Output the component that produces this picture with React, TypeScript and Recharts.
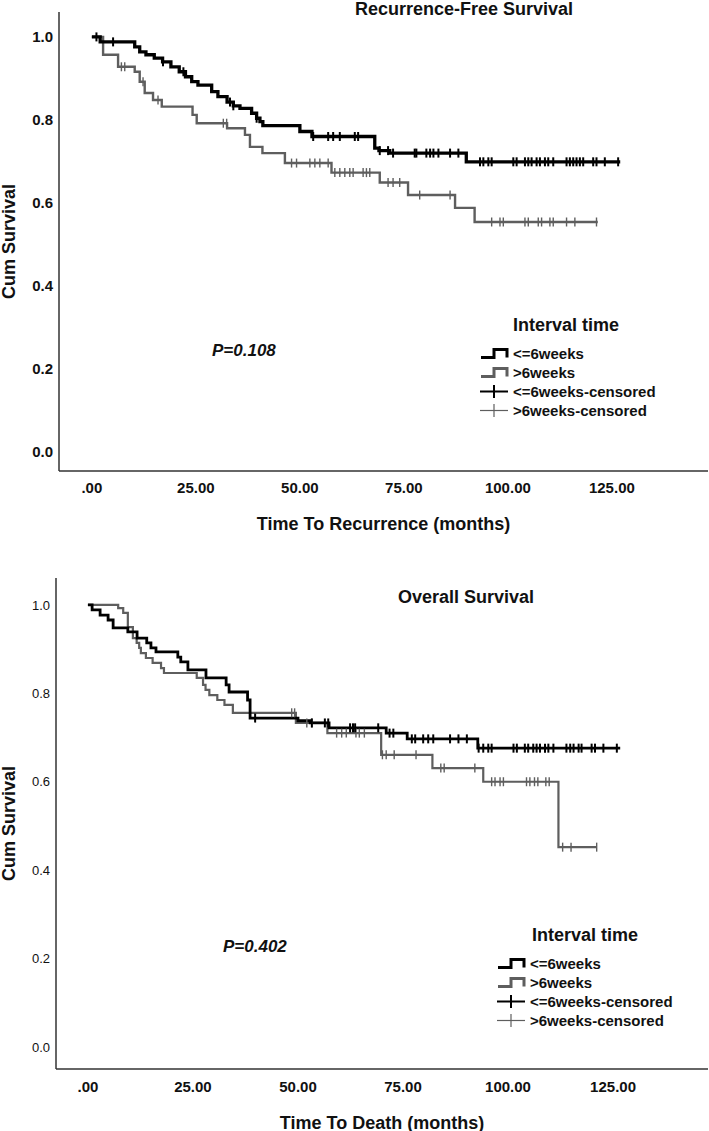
import React from "react"
import { ComposedChart, Line, Scatter, XAxis, YAxis, Legend } from "recharts"

// Recurrence-free survival, <=6 weeks (step times / survival after step)
const rfsShortT = [0, 2, 10.3, 11.5, 13, 15, 17, 19, 21, 22.5, 24, 25.5, 28.8, 30.3, 32.5, 34, 35.6, 38.4, 39.6, 40.4, 41.1, 50, 52.9, 68, 69, 71.6, 90, 127]
const rfsShortS = [1.0, 0.988, 0.976, 0.964, 0.957, 0.949, 0.94, 0.928, 0.916, 0.904, 0.892, 0.884, 0.868, 0.856, 0.843, 0.834, 0.828, 0.816, 0.804, 0.796, 0.786, 0.772, 0.76, 0.732, 0.726, 0.72, 0.699, 0.699]
const rfsShortCens = [1.1, 5.1, 17.1, 22, 33.2, 34, 39.6, 53.2, 56.8, 58, 59.6, 63.2, 64, 69.2, 71.2, 72.4, 77.6, 78, 80.4, 81.3, 82.1, 83.3, 86.1, 88.1, 93.3, 94.1, 95.3, 96.1, 101.3, 102.1, 104.1, 104.9, 105.7, 106.9, 107.7, 108.9, 109.7, 110.9, 114.1, 114.9, 115.7, 116.5, 117.3, 118.1, 120.5, 121.3, 123.3, 126.5]

// Recurrence-free survival, >6 weeks
const rfsLongT = [0, 2.7, 6.3, 10.3, 11.5, 12.7, 14.7, 16.8, 24.2, 25.2, 32.5, 36.8, 38, 41, 46.4, 57.6, 69.2, 76, 87.3, 92, 121.6]
const rfsLongS = [1.0, 0.957, 0.928, 0.916, 0.892, 0.865, 0.848, 0.832, 0.812, 0.792, 0.78, 0.764, 0.735, 0.72, 0.696, 0.673, 0.649, 0.619, 0.588, 0.554, 0.554]
const rfsLongCens = [7.1, 7.9, 12.3, 15.9, 31.6, 32.4, 48, 49.2, 52.4, 53.6, 54.8, 56.8, 58.4, 59.6, 60.8, 62, 62.8, 65.2, 66, 66.8, 71.2, 72.4, 74, 78.8, 86.1, 96.1, 98.1, 98.9, 104.1, 104.9, 107.3, 108.1, 110.1, 110.9, 114.1, 116.1, 121.3]

// Overall survival, <=6 weeks
const osShortT = [0, 1, 2.9, 4.8, 6, 9.5, 11.7, 14, 15, 16.2, 21.4, 22.1, 23.8, 28.1, 32.9, 33.6, 38, 38.6, 50, 52.9, 57.4, 71, 76, 92.8, 126.7]
const osShortS = [1.0, 0.989, 0.977, 0.966, 0.948, 0.939, 0.925, 0.914, 0.903, 0.894, 0.882, 0.871, 0.853, 0.835, 0.819, 0.803, 0.785, 0.744, 0.738, 0.733, 0.722, 0.71, 0.697, 0.676, 0.676]
const osShortCens = [39.8, 53.3, 56.4, 57.2, 62.4, 63.1, 63.6, 69.1, 71.8, 72.7, 77.1, 77.9, 79.8, 81, 82.2, 86.2, 88.2, 90.2, 93, 94.1, 95.3, 96.1, 101.3, 102.1, 104, 104.8, 106, 106.8, 107.6, 108.8, 109.6, 110.8, 113.9, 114.8, 115.6, 116.8, 117.5, 119.9, 120.7, 122.7, 125.9]

// Overall survival, >6 weeks
const osLongT = [0, 7.2, 8.4, 9.5, 10.7, 11.6, 12.2, 12.6, 13.8, 15.4, 17.4, 18.1, 25.9, 27.4, 28, 28.9, 30.8, 32.5, 34.5, 49.5, 57, 69.8, 82, 94.1, 112, 121.1]
const osLongS = [1.0, 0.993, 0.982, 0.95, 0.925, 0.914, 0.903, 0.891, 0.88, 0.869, 0.857, 0.846, 0.835, 0.819, 0.808, 0.796, 0.785, 0.774, 0.756, 0.733, 0.71, 0.661, 0.631, 0.6, 0.452, 0.452]
const osLongCens = [48.5, 49.2, 52.1, 53.3, 59.2, 60.4, 61.5, 63.8, 64.6, 65.8, 70.1, 71, 72.9, 78.1, 84, 84.8, 92.1, 96.1, 96.9, 98.1, 98.9, 104.4, 105.2, 106.3, 107.1, 109, 109.8, 113, 115, 121.1]

const xTicks = [0, 25, 50, 75, 100, 125]
const yTicks = [0, 0.2, 0.4, 0.6, 0.8, 1.0]
const legendLabels = ["<=6weeks", ">6weeks", "<=6weeks-censored", ">6weeks-censored"]

const FONT = "'Liberation Sans', Arial, sans-serif"
const BLACK = "#000"
const GRAY = "#5e5e5e"

const toRows = (ts: number[], ss: number[]) => ts.map((t, i) => ({ t, s: ss[i] }))

// survival value of the step curve at time t (for placing censor marks)
const stepAt = (ts: number[], ss: number[], t: number) => {
  let s = ss[0]
  ts.forEach((v, i) => {
    if (v <= t) s = ss[i]
  })
  return s
}
const censRows = (ts: number[], ss: number[], cens: number[]) =>
  cens.map((t) => ({ t, s: stepAt(ts, ss, t) }))

const censorMark = (color: string, half: number, w: number) => (p: any) => (
  <line x1={p.cx} x2={p.cx} y1={p.cy - half} y2={p.cy + half} stroke={color} strokeWidth={w} />
)

const fmtX = (v: number) => (v === 0 ? ".00" : v.toFixed(2))
const fmtY = (v: number) => v.toFixed(1)

function KMLegend({ titleLeft }: { titleLeft: number }) {
  return (
    <div style={{ position: "relative", width: 200, height: 110, fontFamily: FONT, fontWeight: "bold", color: "#111" }}>
      <div style={{ position: "absolute", left: titleLeft, top: 0, fontSize: 18, lineHeight: "24px", whiteSpace: "nowrap" }}>
        Interval time
      </div>
      {legendLabels.map((lab, i) => (
        <div
          key={lab}
          style={{ position: "absolute", left: 0, top: 30.5 + i * 19.3, height: 19, display: "flex", alignItems: "center", fontSize: 15, whiteSpace: "nowrap" }}
        >
          <svg width={30} height={19}>
            {i < 2 ? (
              <path d="M1,13.5 H14 V5.5 H27 V13.5" fill="none" stroke={i === 0 ? BLACK : GRAY} strokeWidth={3} />
            ) : (
              <g stroke={i === 2 ? BLACK : GRAY} strokeWidth={i === 2 ? 2 : 1.2}>
                <line x1={0} x2={28} y1={9.5} y2={9.5} />
                <line x1={14} x2={14} y1={3} y2={16} />
              </g>
            )}
          </svg>
          <span style={{ marginLeft: 3 }}>{lab}</span>
        </div>
      ))}
    </div>
  )
}

type KMProps = {
  height: number
  margin: { top: number; right: number; bottom: number; left: number }
  yWidth: number
  xHeight: number
  xDomain: [number, number]
  yDomain: [number, number]
  title: string
  titleX: number
  titleY: number
  pText: string
  pX: number
  pY: number
  xLabel: string
  xLabelDy: number
  xTickMargin: number
  yTickStyle: React.CSSProperties & { fontSize: number; fontWeight: string }
  legendLeft: number
  legendTop: number
  legendTitleLeft: number
  short: { t: number[]; s: number[]; c: number[] }
  long: { t: number[]; s: number[]; c: number[] }
  widths: [number, number]
}

function KMChart(p: KMProps) {
  return (
    <ComposedChart width={709} height={p.height} margin={p.margin}>
      <XAxis
        dataKey="t"
        type="number"
        domain={p.xDomain}
        ticks={xTicks}
        tickFormatter={fmtX}
        allowDataOverflow
        height={p.xHeight}
        tickLine={false}
        tickMargin={p.xTickMargin}
        stroke="#333"
        strokeWidth={1.5}
        tick={{ fill: "#111", fontSize: 15, fontWeight: "bold", fontFamily: FONT }}
        label={{
          content: (lp: any) => (
            <text
              x={lp.viewBox.x + lp.viewBox.width / 2}
              y={lp.viewBox.y + p.xLabelDy}
              textAnchor="middle"
              fontSize={18}
              fontWeight="bold"
              fontFamily={FONT}
              fill="#111"
            >
              {p.xLabel}
            </text>
          ),
        }}
      />
      <YAxis
        type="number"
        domain={p.yDomain}
        ticks={yTicks}
        tickFormatter={fmtY}
        allowDataOverflow
        width={p.yWidth}
        tickLine={false}
        tickMargin={0}
        stroke="#333"
        strokeWidth={1.5}
        tick={{ fill: "#111", fontFamily: FONT, ...p.yTickStyle }}
        label={{
          content: (lp: any) => {
            const cy = lp.viewBox.y + lp.viewBox.height / 2
            return (
              <text
                x={15}
                y={cy}
                transform={`rotate(-90, 15, ${cy})`}
                textAnchor="middle"
                fontSize={18}
                fontWeight="bold"
                fontFamily={FONT}
                fill="#111"
              >
                Cum Survival
              </text>
            )
          },
        }}
      />
      <Legend
        layout="vertical"
        align="center"
        verticalAlign="middle"
        content={() => <KMLegend titleLeft={p.legendTitleLeft} />}
        wrapperStyle={{ position: "absolute", left: p.legendLeft, top: p.legendTop, width: 200, height: 110 }}
      />
      <Line
        data={toRows(p.long.t, p.long.s)}
        dataKey="s"
        type="stepAfter"
        stroke={GRAY}
        strokeWidth={p.widths[1]}
        dot={false}
        isAnimationActive={false}
        legendType="none"
      />
      <Scatter
        data={censRows(p.long.t, p.long.s, p.long.c)}
        dataKey="s"
        shape={censorMark(GRAY, 4.5, 1.4)}
        isAnimationActive={false}
        legendType="none"
      />
      <Line
        data={toRows(p.short.t, p.short.s)}
        dataKey="s"
        type="stepAfter"
        stroke={BLACK}
        strokeWidth={p.widths[0]}
        dot={false}
        isAnimationActive={false}
        legendType="none"
      />
      <Scatter
        data={censRows(p.short.t, p.short.s, p.short.c)}
        dataKey="s"
        shape={censorMark(BLACK, 4.5, 2)}
        isAnimationActive={false}
        legendType="none"
      />
      <text x={p.titleX} y={p.titleY} textAnchor="middle" fontSize={18} fontWeight="bold" fontFamily={FONT} fill="#111">
        {p.title}
      </text>
      <text x={p.pX} y={p.pY} fontSize={17} fontWeight="bold" fontStyle="italic" fontFamily={FONT} fill="#111">
        {p.pText}
      </text>
    </ComposedChart>
  )
}

export default function App() {
  return (
    <div style={{ position: "absolute", left: 0, top: 0, width: 709, height: 1131, background: "#fff", overflow: "hidden" }}>
      <KMChart
        height={548}
        margin={{ top: 12, right: 1, bottom: 0, left: 0 }}
        yWidth={59}
        xHeight={77}
        xDomain={[-7.9, 148.1]}
        yDomain={[-0.046, 1.06]}
        title="Recurrence-Free Survival"
        titleX={464}
        titleY={15}
        pText="P=0.108"
        pX={212}
        pY={356}
        xLabel="Time To Recurrence (months)"
        xLabelDy={58.5}
        xTickMargin={5}
        yTickStyle={{ fontSize: 15, fontWeight: "bold" }}
        legendLeft={480}
        legendTop={313}
        legendTitleLeft={33}
        short={{ t: rfsShortT, s: rfsShortS, c: rfsShortCens }}
        long={{ t: rfsLongT, s: rfsLongS, c: rfsLongCens }}
        widths={[3.3, 2.4]}
      />
      <KMChart
        height={590}
        margin={{ top: 30, right: 1, bottom: 7, left: 0 }}
        yWidth={56}
        xHeight={62}
        xDomain={[-7.6, 147.6]}
        yDomain={[-0.05, 1.061]}
        title="Overall Survival"
        titleX={466}
        titleY={55}
        pText="P=0.402"
        pX={223}
        pY={404}
        xLabel="Time To Death (months)"
        xLabelDy={59.5}
        xTickMargin={6}
        yTickStyle={{ fontSize: 13, fontWeight: "normal" }}
        legendLeft={497}
        legendTop={375}
        legendTitleLeft={35}
        short={{ t: osShortT, s: osShortS, c: osShortCens }}
        long={{ t: osLongT, s: osLongS, c: osLongCens }}
        widths={[2.8, 2.2]}
      />
    </div>
  )
}
